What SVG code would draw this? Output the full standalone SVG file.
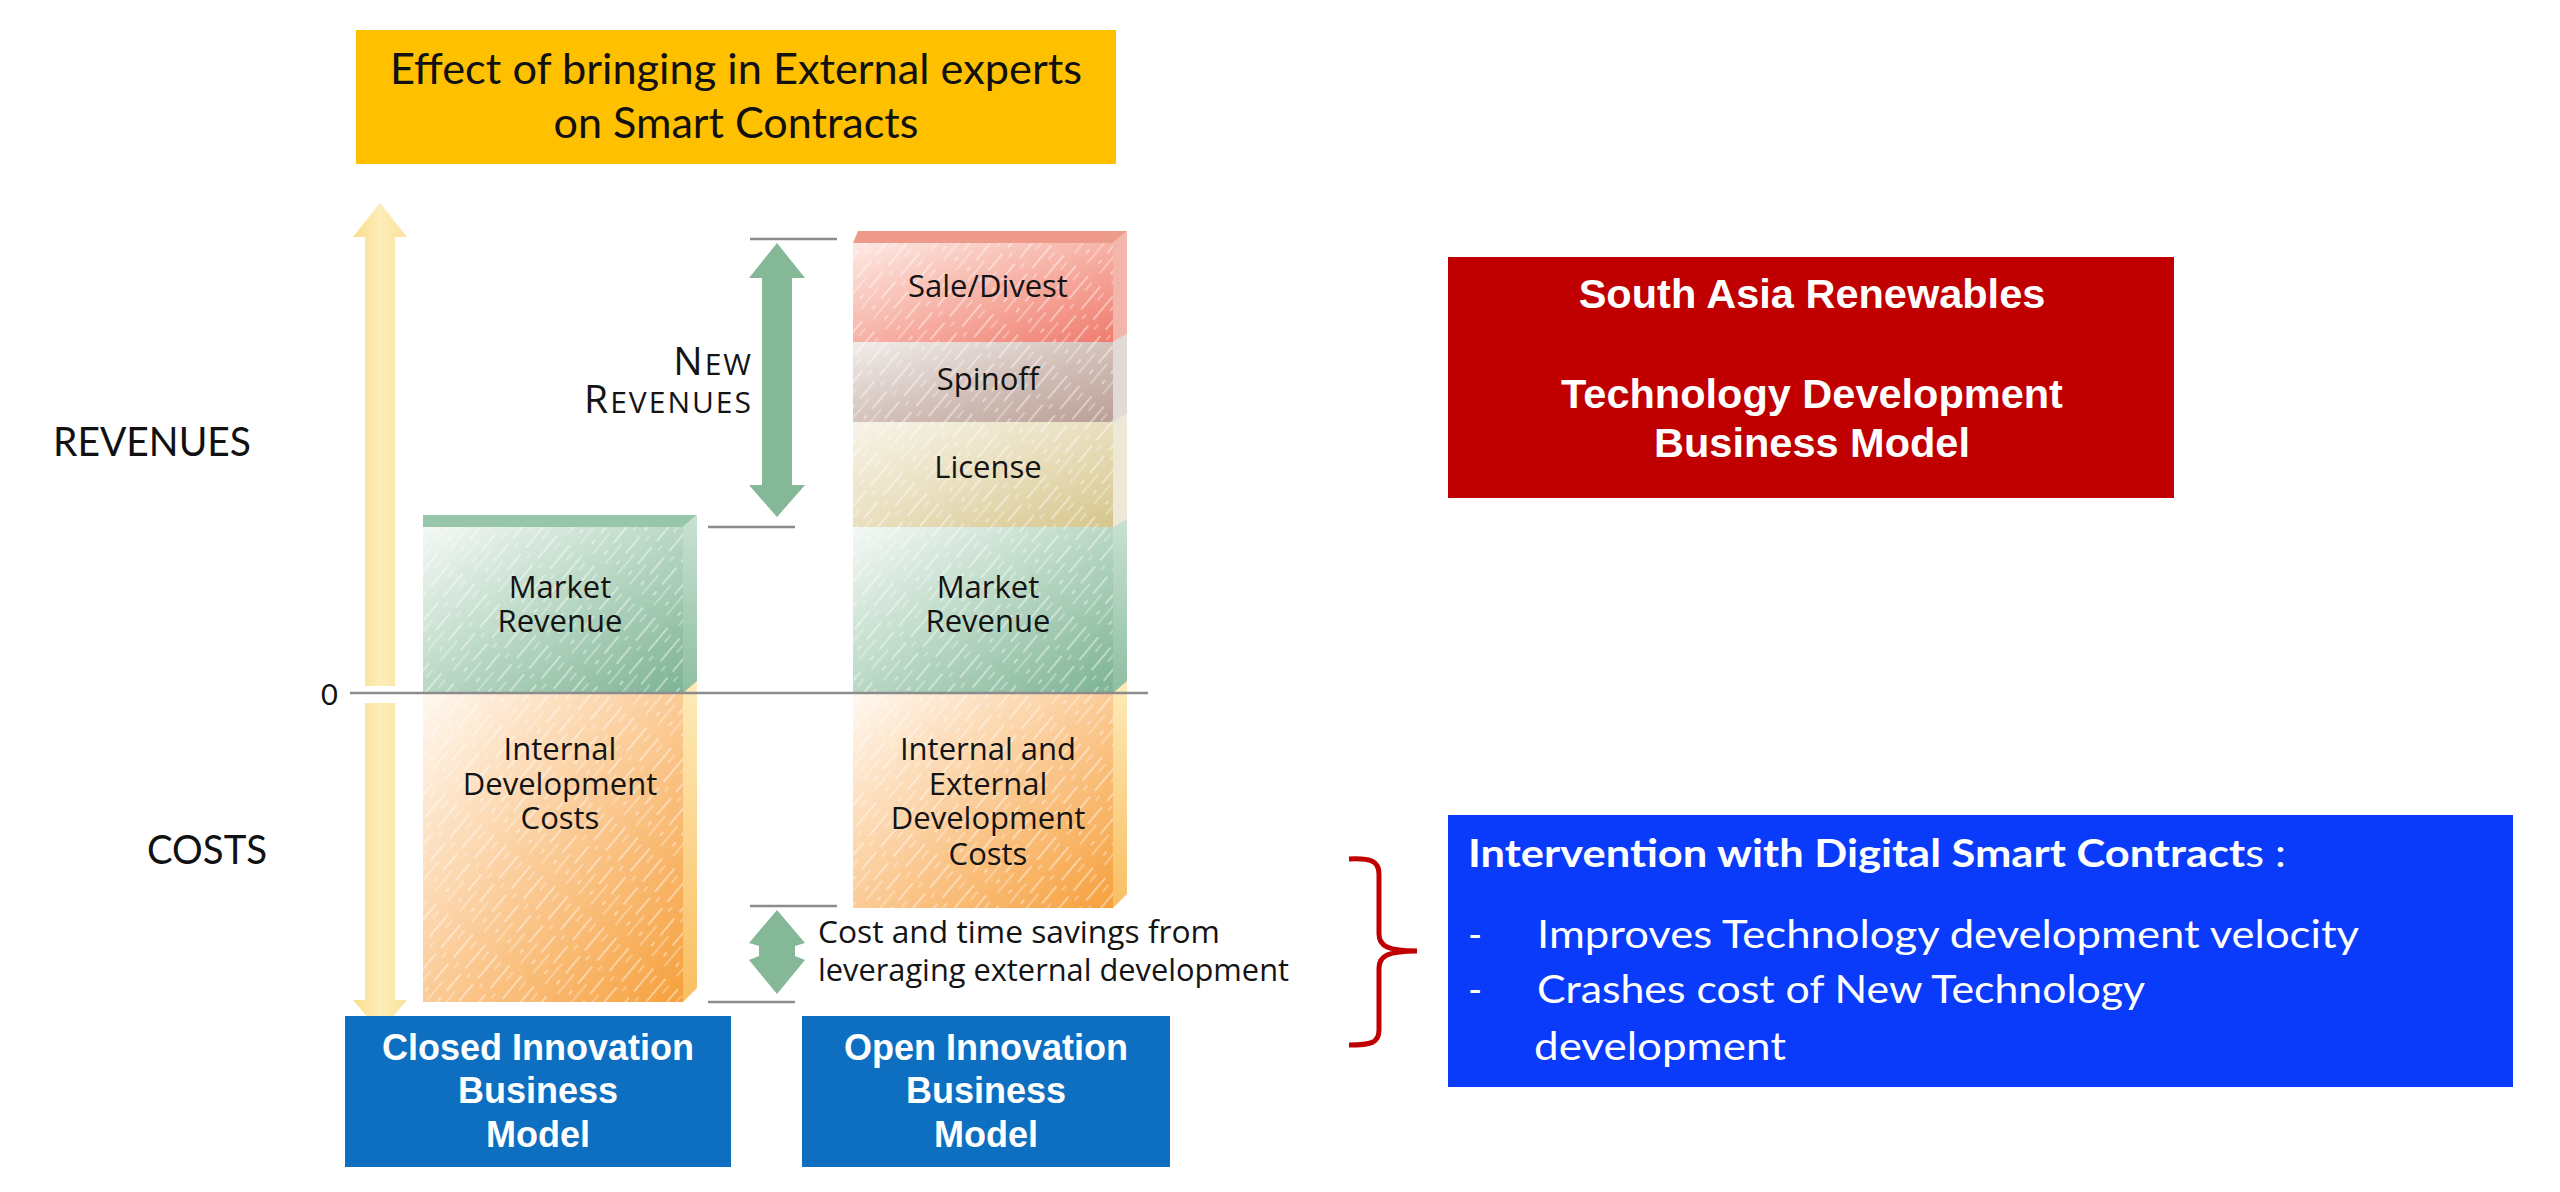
<svg xmlns="http://www.w3.org/2000/svg" width="2560" height="1192" viewBox="0 0 2560 1192">
<style>
.cal{font-family:Lato,"Liberation Sans",sans-serif;}
.lbl{font-family:"Open Sans","DejaVu Sans",sans-serif;font-size:31px;fill:#141414;text-anchor:middle;}
.arial{font-family:"Liberation Sans",Arial,sans-serif;font-weight:bold;fill:#fff;text-anchor:middle;}
.tick{stroke:#8c8c8c;stroke-width:2.5;fill:none;}
</style>
<defs>
<pattern id="hatch" patternUnits="userSpaceOnUse" width="16" height="90" patternTransform="rotate(40)">
<line x1="3" y1="0" x2="3" y2="90" stroke="#fff" stroke-width="1.4" stroke-dasharray="22 9 5 16 30 8" opacity=".6"/>
<line x1="10" y1="0" x2="10" y2="90" stroke="#fff" stroke-width="1.2" stroke-dasharray="6 18 26 12 10 18" stroke-dashoffset="7" opacity=".5"/>
</pattern>
<linearGradient id="gSale" x1="0" y1="0" x2="1" y2="1"><stop offset="0" stop-color="#FDEAE4"/><stop offset=".55" stop-color="#F6ADA0"/><stop offset="1" stop-color="#EF7B6E"/></linearGradient>
<linearGradient id="gSpin" x1="0" y1="0" x2="1" y2="1"><stop offset="0" stop-color="#F1ECE9"/><stop offset=".55" stop-color="#D2BFB8"/><stop offset="1" stop-color="#B99F96"/></linearGradient>
<linearGradient id="gLic" x1="0" y1="0" x2="1" y2="1"><stop offset="0" stop-color="#F7F3E8"/><stop offset=".55" stop-color="#E8DDBA"/><stop offset="1" stop-color="#D6C68C"/></linearGradient>
<linearGradient id="gMkt" x1="0" y1="0" x2="1" y2="1"><stop offset="0" stop-color="#F4F8F5"/><stop offset=".5" stop-color="#B9D8C4"/><stop offset="1" stop-color="#7DB394"/></linearGradient>
<linearGradient id="gCost" x1="0" y1="0" x2="1" y2="1"><stop offset="0" stop-color="#FFF8F0"/><stop offset=".5" stop-color="#FBCB96"/><stop offset="1" stop-color="#F6A03C"/></linearGradient>
<linearGradient id="sideGreen" x1="0" y1="0" x2="0" y2="1"><stop offset="0" stop-color="#C9E1D2"/><stop offset="1" stop-color="#8EBFA2"/></linearGradient>
<linearGradient id="sideCost" x1="0" y1="0" x2="0" y2="1"><stop offset="0" stop-color="#FDEBB8"/><stop offset="1" stop-color="#F9BE62"/></linearGradient>
<linearGradient id="yArrow" x1="0" y1="0" x2="1" y2="0"><stop offset="0" stop-color="#FADD8A"/><stop offset=".5" stop-color="#FDEDB8"/><stop offset="1" stop-color="#FBE29A"/></linearGradient>
</defs>
<rect width="2560" height="1192" fill="#fff"/>

<g id="title">
<rect x="356" y="30" width="760" height="134" fill="#FFC000"/>
<text class="cal" x="736" y="84" font-size="42" text-anchor="middle" fill="#111" textLength="692" lengthAdjust="spacingAndGlyphs">Effect of bringing in External experts</text>
<text class="cal" x="736" y="138" font-size="42" text-anchor="middle" fill="#111" textLength="365" lengthAdjust="spacingAndGlyphs">on Smart Contracts</text>
</g>

<g id="axis-labels">
<text class="cal" x="53" y="456" font-size="40" fill="#111" textLength="198" lengthAdjust="spacingAndGlyphs">REVENUES</text>
<text class="cal" x="147" y="864" font-size="40" fill="#111" textLength="120" lengthAdjust="spacingAndGlyphs">COSTS</text>
<text class="cal" x="321" y="705" font-size="29" fill="#111">0</text>
</g>

<g id="axis-arrows">
<polygon points="380,203 407,237 395,237 395,686 365,686 365,237 353,237" fill="url(#yArrow)"/>
<polygon points="365,703 395,703 395,1000 407,1000 380,1032 353,1000 365,1000" fill="url(#yArrow)"/>
</g>

<g id="closed-column">
<polygon points="423,515 697,515 683,527 423,527" fill="#98C6AA"/>
<rect x="423" y="527" width="260" height="166" fill="url(#gMkt)"/>
<rect x="423" y="527" width="260" height="166" fill="url(#hatch)"/>
<polygon points="683,527 697,515 697,693 683,693" fill="url(#sideGreen)"/>
<polygon points="423,693 683,693 683,1002 423,1002" fill="url(#gCost)"/>
<polygon points="423,693 683,693 683,1002 423,1002" fill="url(#hatch)"/>
<polygon points="683,693 697,681 697,988 683,1002" fill="url(#sideCost)"/>
<text class="lbl" x="560" y="598">Market</text>
<text class="lbl" x="560" y="632">Revenue</text>
<text class="lbl" x="560" y="760">Internal</text>
<text class="lbl" x="560" y="795">Development</text>
<text class="lbl" x="560" y="829">Costs</text>
</g>

<g id="open-column">
<polygon points="858,231 1127,231 1113,243 853,243" fill="#EE9A8B"/>
<rect x="853" y="243" width="260" height="99" fill="url(#gSale)"/>
<polygon points="1113,243 1127,231 1127,334 1113,342" fill="#F3B6AA"/>
<rect x="853" y="342" width="260" height="80" fill="url(#gSpin)"/>
<polygon points="1113,342 1127,334 1127,414 1113,422" fill="#E2DAD6"/>
<rect x="853" y="422" width="260" height="105" fill="url(#gLic)"/>
<polygon points="1113,422 1127,414 1127,519 1113,527" fill="#EEE8D6"/>
<rect x="853" y="527" width="260" height="166" fill="url(#gMkt)"/>
<polygon points="1113,527 1127,519 1127,693 1113,693" fill="url(#sideGreen)"/>
<polygon points="853,693 1113,693 1113,908 853,908" fill="url(#gCost)"/>
<polygon points="1113,693 1127,681 1127,894 1113,908" fill="url(#sideCost)"/>
<rect x="853" y="243" width="260" height="665" fill="url(#hatch)"/>
<text class="lbl" x="988" y="297">Sale/Divest</text>
<text class="lbl" x="988" y="390">Spinoff</text>
<text class="lbl" x="988" y="478">License</text>
<text class="lbl" x="988" y="598">Market</text>
<text class="lbl" x="988" y="632">Revenue</text>
<text class="lbl" x="988" y="760">Internal and</text>
<text class="lbl" x="988" y="795">External</text>
<text class="lbl" x="988" y="829">Development</text>
<text class="lbl" x="988" y="865">Costs</text>
</g>

<g id="new-revenues-label">
<text class="lbl" x="753" y="375" style="text-anchor:end;font-size:39px" letter-spacing="2">N<tspan style="font-size:30px">EW</tspan></text>
<text class="lbl" x="753" y="413" style="text-anchor:end;font-size:39px" letter-spacing="2">R<tspan style="font-size:30px">EVENUES</tspan></text>
</g>

<g id="savings-label">
<text class="lbl" x="818" y="943" style="text-anchor:start;font-size:31px" textLength="402" lengthAdjust="spacingAndGlyphs">Cost and time savings from</text>
<text class="lbl" x="818" y="981" style="text-anchor:start;font-size:31px" textLength="471" lengthAdjust="spacingAndGlyphs">leveraging external development</text>
</g>

<g id="closed-model">
<rect x="345" y="1016" width="386" height="151" fill="#0E6FC1"/>
<text class="arial" x="538" y="1060" font-size="36">Closed Innovation</text>
<text class="arial" x="538" y="1103" font-size="36">Business</text>
<text class="arial" x="538" y="1147" font-size="36">Model</text>
</g>

<g id="open-model">
<rect x="802" y="1016" width="368" height="151" fill="#0E6FC1"/>
<text class="arial" x="986" y="1060" font-size="36">Open Innovation</text>
<text class="arial" x="986" y="1103" font-size="36">Business</text>
<text class="arial" x="986" y="1147" font-size="36">Model</text>
</g>

<g id="south-asia">
<rect x="1448" y="257" width="726" height="241" fill="#C00000"/>
<text class="arial" x="1812" y="308" font-size="41.5">South Asia Renewables</text>
<text class="arial" x="1812" y="408" font-size="41.5">Technology Development</text>
<text class="arial" x="1812" y="457" font-size="41.5">Business Model</text>
</g>

<g id="intervention">
<rect x="1448" y="815" width="1065" height="272" fill="#0A3BFB"/>
<text class="cal" x="1468" y="867" font-size="39" fill="#fff" textLength="818" lengthAdjust="spacingAndGlyphs"><tspan font-weight="bold">Intervention with Digital Smart Contract</tspan>s :</text>
<text class="cal" x="1468" y="948" font-size="38" fill="#fff">-</text>
<text class="cal" x="1537" y="948" font-size="38" fill="#fff" textLength="822" lengthAdjust="spacingAndGlyphs">Improves Technology development velocity</text>
<text class="cal" x="1468" y="1003" font-size="38" fill="#fff">-</text>
<text class="cal" x="1537" y="1003" font-size="38" fill="#fff" textLength="608" lengthAdjust="spacingAndGlyphs">Crashes cost of New Technology</text>
<text class="cal" x="1534" y="1060" font-size="38" fill="#fff" textLength="252" lengthAdjust="spacingAndGlyphs">development</text>
</g>

<g id="connectors">
<line class="tick" x1="350" y1="693" x2="1148" y2="693" stroke-width="3"/>
<line class="tick" x1="750" y1="239" x2="837" y2="239"/>
<line class="tick" x1="708" y1="527" x2="795" y2="527"/>
<line class="tick" x1="750" y1="906" x2="837" y2="906"/>
<line class="tick" x1="708" y1="1002" x2="795" y2="1002"/>
<polygon points="777,243 805,278 792,278 792,485 805,485 777,517 749,485 762,485 762,278 749,278" fill="#84B896"/>
<polygon points="777,910 805,943 795,946 795,956 805,960 777,994 749,960 759,956 759,946 749,943" fill="#84B896"/>
<path d="M1349,859 C1371,858 1379,861 1379,874 L1379,934 C1379,946 1388,951 1417,951 C1388,951 1379,956 1379,968 L1379,1030 C1379,1043 1371,1045 1349,1045" fill="none" stroke="#C00000" stroke-width="5"/>
</g>
</svg>
